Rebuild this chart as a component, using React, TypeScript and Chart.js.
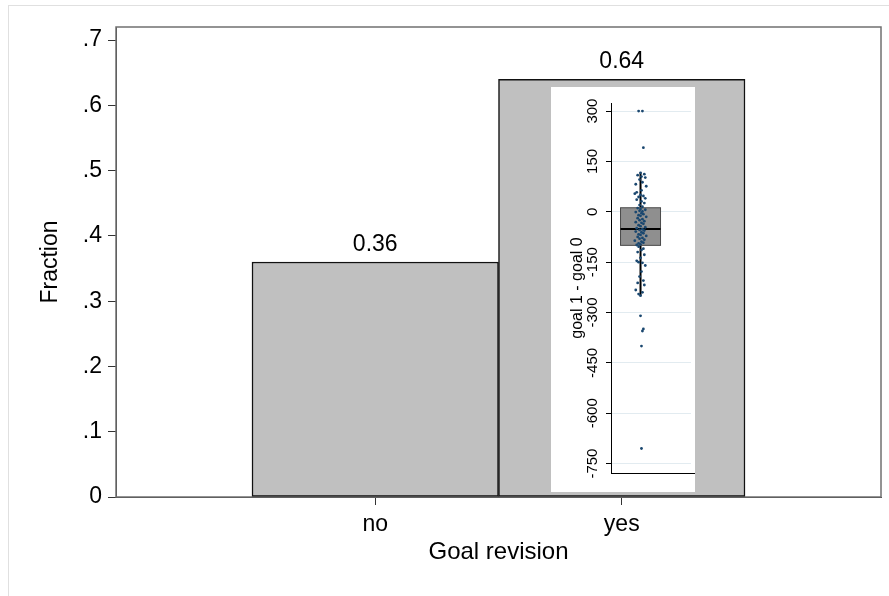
import React, { useEffect, useRef } from 'react';
import { Chart, registerables } from 'chart.js';

Chart.register(...registerables);

const FONT = "'Liberation Sans', Arial, Helvetica, sans-serif";

// ---- Main chart data ----
const categories = ['no', 'yes'];
const categoryPositions = [1, 2];
const fractions = [0.36, 0.64];
const yTickValues = [0, 0.1, 0.2, 0.3, 0.4, 0.5, 0.6, 0.7];
const yTickLabels = ['0', '.1', '.2', '.3', '.4', '.5', '.6', '.7'];

// ---- Inset box plot data (goal 1 - goal 0) ----
const insetTicks = [-750, -600, -450, -300, -150, 0, 150, 300];
const boxQuartiles = [-100, -51, 12]; // q1, median, q3
const boxWhiskers = [-250, 116]; // lower adjacent, upper adjacent
// [jitter, value]
const insetPoints: [number, number][] = [
  [-2, 300], [2, 300], [3, 191],
  [0, 116], [4, 112], [-3, 109], [1, 105], [5, 102], [-1, 96], [2, 88], [-5, 82], [6, 76], [1, 64],
  [-4, 58], [-6, 54], [0, 50], [3, 47], [-2, 44], [5, 40], [-4, 36], [1, 31], [4, 26], [-1, 20], [2, 15],
  [-3, 11], [0, 8], [5, 6], [-1, 3], [2, 1], [-5, -1], [1, -4], [3, -7], [-2, -10], [0, -12], [6, -15],
  [-3, -19], [2, -22], [-1, -25], [4, -28], [-5, -31], [1, -33], [3, -36], [-2, -40], [0, -43], [5, -46], [-4, -49],
  [2, -52], [-1, -54], [4, -56], [-5, -59], [1, -61], [3, -64], [-2, -67], [0, -69], [6, -72], [-3, -75],
  [2, -78], [-1, -80], [4, -83], [-6, -86], [1, -89], [3, -92], [-2, -94], [0, -97], [-4, -99],
  [-2, -104], [3, -110], [1, -114], [-3, -120], [4, -128], [0, -137], [-4, -146], [-2, -150], [2, -152],
  [5, -160], [1, -178], [-1, -193], [3, -205], [-3, -212], [4, -218], [-5, -233], [2, -240], [-2, -245], [0, -250],
  [0, -310], [3, -349], [2, -355], [1, -400], [1, -705],
];

const framePlugin = {
  id: 'frame',
  beforeDatasetsDraw(chart: any) {
    const { ctx, chartArea: a } = chart;
    ctx.save();
    ctx.strokeStyle = '#707070';
    ctx.lineWidth = 1.5;
    ctx.strokeRect(a.left, a.top, a.right - a.left, a.bottom - a.top);
    ctx.restore();
  },
};

const valueLabelPlugin = {
  id: 'valueLabels',
  afterDatasetsDraw(chart: any) {
    const { ctx } = chart;
    const meta = chart.getDatasetMeta(0);
    ctx.save();
    ctx.font = `23px ${FONT}`;
    ctx.fillStyle = '#000';
    ctx.textAlign = 'center';
    ctx.textBaseline = 'alphabetic';
    meta.data.forEach((bar: any, i: number) => {
      ctx.fillText(fractions[i].toFixed(2), bar.x, bar.y - 11);
    });
    ctx.restore();
  },
};

const BOX_HALF = 21;

const boxPlugin = {
  id: 'box',
  beforeDatasetsDraw(chart: any) {
    const { ctx, scales } = chart;
    const xs = scales.x;
    const ys = scales.y;
    const cx = xs.getPixelForValue(0);
    const xl = xs.getPixelForValue(-BOX_HALF);
    const xr = xs.getPixelForValue(BOX_HALF);
    const [q1, med, q3] = boxQuartiles.map((v) => ys.getPixelForValue(v));
    const [lo, hi] = boxWhiskers.map((v) => ys.getPixelForValue(v));
    ctx.save();
    ctx.strokeStyle = '#000';
    ctx.lineWidth = 2;
    ctx.beginPath();
    ctx.moveTo(cx, hi);
    ctx.lineTo(cx, q3);
    ctx.moveTo(cx, q1);
    ctx.lineTo(cx, lo);
    ctx.stroke();
    ctx.fillStyle = '#8f8f8f';
    ctx.fillRect(xl, q3, xr - xl, q1 - q3);
    ctx.strokeStyle = '#4a4a4a';
    ctx.lineWidth = 1;
    ctx.strokeRect(xl, q3, xr - xl, q1 - q3);
    ctx.strokeStyle = '#000';
    ctx.lineWidth = 2;
    ctx.beginPath();
    ctx.moveTo(xl, med);
    ctx.lineTo(xr, med);
    ctx.stroke();
    ctx.restore();
  },
  afterDraw(chart: any) {
    const { ctx, chartArea: a } = chart;
    ctx.save();
    ctx.strokeStyle = '#000';
    ctx.lineWidth = 1;
    ctx.beginPath();
    ctx.moveTo(a.left, a.bottom + 0.5);
    ctx.lineTo(chart.width, a.bottom + 0.5);
    ctx.stroke();
    ctx.restore();
  },
};

export default function App() {
  const mainRef = useRef<HTMLCanvasElement>(null);
  const insetRef = useRef<HTMLCanvasElement>(null);

  useEffect(() => {
    const main = new Chart(mainRef.current as HTMLCanvasElement, {
      type: 'bar',
      data: {
        datasets: [
          {
            data: categoryPositions.map((x, i) => ({ x, y: fractions[i] })),
            backgroundColor: '#c0c0c0',
            borderColor: '#111',
            borderWidth: 1.5,
            borderSkipped: false,
            barPercentage: 1,
            categoryPercentage: 1,
          } as any,
        ],
      },
      options: {
        responsive: false,
        animation: false,
        devicePixelRatio: 1,
        layout: { padding: { left: 0, top: 27, right: 8, bottom: 29 } },
        plugins: { legend: { display: false }, tooltip: { enabled: false } },
        scales: {
          x: {
            type: 'linear',
            min: -0.0517,
            max: 3.0517,
            offset: false,
            afterBuildTicks: (s: any) => {
              s.ticks = categoryPositions.map((v) => ({ value: v }));
            },
            afterFit: (s: any) => {
              s.height = 70;
            },
            ticks: {
              autoSkip: false,
              maxRotation: 0,
              padding: 6,
              color: '#000',
              font: { family: FONT, size: 23 },
              callback: (v: any) => {
                const i = categoryPositions.indexOf(Number(v));
                return i >= 0 ? categories[i] : '';
              },
            },
            grid: { display: true, drawOnChartArea: false, drawTicks: true, tickLength: 8, tickColor: '#333', offset: false },
            border: { display: true, color: '#333', width: 1 },
            title: {
              display: true,
              text: 'Goal revision',
              color: '#000',
              font: { family: FONT, size: 24 },
              padding: { top: 0, bottom: 0 },
            },
          } as any,
          y: {
            type: 'linear',
            min: 0,
            max: 0.72,
            afterBuildTicks: (s: any) => {
              s.ticks = yTickValues.map((v) => ({ value: v }));
            },
            afterFit: (s: any) => {
              s.width = 116;
            },
            ticks: {
              padding: 6,
              color: '#000',
              font: { family: FONT, size: 23 },
              callback: (_v: any, i: number) => yTickLabels[i],
            },
            grid: { display: true, drawOnChartArea: false, drawTicks: true, tickLength: 8, tickColor: '#333' },
            border: { display: true, color: '#333', width: 1 },
            title: {
              display: true,
              text: 'Fraction',
              color: '#000',
              font: { family: FONT, size: 23 },
              padding: { top: 37, bottom: 0 },
            },
          } as any,
        },
      },
      plugins: [framePlugin, valueLabelPlugin],
    });

    const inset = new Chart(insetRef.current as HTMLCanvasElement, {
      type: 'scatter',
      data: {
        datasets: [
          {
            data: insetPoints.map(([x, y]) => ({ x, y })),
            backgroundColor: '#1a476f',
            borderColor: '#1a476f',
            borderWidth: 0,
            pointRadius: 1.4,
          },
        ],
      },
      options: {
        responsive: false,
        animation: false,
        devicePixelRatio: 1,
        layout: { padding: { left: 0, top: 16, right: 0, bottom: 19 } },
        plugins: { legend: { display: false }, tooltip: { enabled: false } },
        scales: {
          x: { type: 'linear', min: -31, max: 53, display: false },
          y: {
            type: 'linear',
            min: -778,
            max: 324,
            afterBuildTicks: (s: any) => {
              s.ticks = insetTicks.map((v) => ({ value: v }));
            },
            afterFit: (s: any) => {
              s.width = 60;
            },
            ticks: {
              minRotation: 90,
              maxRotation: 90,
              crossAlign: 'center',
              padding: -2,
              color: '#000',
              font: { family: FONT, size: 15 },
              callback: (v: any) => String(v),
            },
            grid: { display: true, color: '#e2ebf0', lineWidth: 1, drawTicks: true, tickLength: 5, tickColor: '#000' },
            border: { display: true, color: '#000', width: 1 },
            title: {
              display: true,
              text: 'goal 1 - goal 0',
              color: '#000',
              font: { family: FONT, size: 16 },
              padding: { top: 17, bottom: 0 },
            },
          } as any,
        },
      },
      plugins: [boxPlugin],
    });

    return () => {
      main.destroy();
      inset.destroy();
    };
  }, []);

  return (
    <>
      <div
        style={{
          position: 'absolute',
          left: 8,
          top: 5,
          width: 881,
          height: 591,
          boxSizing: 'border-box',
          borderTop: '1px solid #e0e0e0',
          borderLeft: '1px solid #e0e0e0',
        }}
      />
      <canvas
        ref={mainRef}
        width={889}
        height={596}
        style={{ position: 'absolute', left: 0, top: 0, width: 889, height: 596 }}
      />
      <canvas
        ref={insetRef}
        width={144}
        height={405}
        style={{ position: 'absolute', left: 551, top: 87, width: 144, height: 405, background: '#fff' }}
      />
    </>
  );
}
